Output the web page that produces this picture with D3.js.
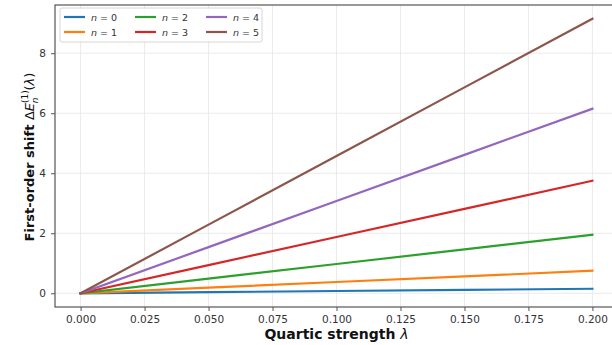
<!DOCTYPE html>
<html>
<head>
<meta charset="utf-8">
<script src="https://cdn.jsdelivr.net/npm/d3@7"></script>
<style>
  body { margin: 0; background: #fff; }
  svg { display: block; font-family: 'DejaVu Sans', sans-serif; }
</style>
</head>
<body>
<div id="chart"></div>
<script>
// values
const lambdas = [0, 0.05, 0.1, 0.15, 0.2];
const shiftN0 = [0, 0.0375, 0.075, 0.1125, 0.15];
const shiftN1 = [0, 0.1875, 0.375, 0.5625, 0.75];
const shiftN2 = [0, 0.4875, 0.975, 1.4625, 1.95];
const shiftN3 = [0, 0.9375, 1.875, 2.8125, 3.75];
const shiftN4 = [0, 1.5375, 3.075, 4.6125, 6.15];
const shiftN5 = [0, 2.2875, 4.575, 6.8625, 9.15];
const levels = ['0', '1', '2', '3', '4', '5'];
const xTicks = [0, 0.025, 0.05, 0.075, 0.1, 0.125, 0.15, 0.175, 0.2];
const yTicks = [0, 2, 4, 6, 8];

const series = [shiftN0, shiftN1, shiftN2, shiftN3, shiftN4, shiftN5];
const colors = ['#1f77b4', '#ff7f0e', '#2ca02c', '#d62728', '#9467bd', '#8c564b'];

const W = 612, H = 345;
const m = { left: 55, right: -6, top: 5, bottom: 38 };

const svg = d3.select('#chart').append('svg')
  .attr('width', W).attr('height', H);

const x = d3.scaleLinear()
  .domain([-0.01, 0.21])
  .range([m.left, W - m.right]);
const y = d3.scaleLinear()
  .domain([-0.4575, 9.6075])
  .range([H - m.bottom, m.top]);

// grid
svg.append('g').selectAll('line.gx')
  .data(xTicks).join('line')
    .attr('x1', d => x(d)).attr('x2', d => x(d))
    .attr('y1', y.range()[0]).attr('y2', y.range()[1])
    .attr('stroke', '#e6e6e6').attr('stroke-width', 0.8);
svg.append('g').selectAll('line.gy')
  .data(yTicks).join('line')
    .attr('x1', x.range()[0]).attr('x2', x.range()[1])
    .attr('y1', d => y(d)).attr('y2', d => y(d))
    .attr('stroke', '#e6e6e6').attr('stroke-width', 0.8);

// lines
const line = d3.line()
  .x((d, i) => x(lambdas[i]))
  .y(d => y(d));
svg.append('g').selectAll('path')
  .data(series).join('path')
    .attr('d', d => line(d))
    .attr('fill', 'none')
    .attr('stroke', (_, i) => colors[i])
    .attr('stroke-width', 2.2)
    .attr('stroke-linecap', 'square');

// spines
svg.append('rect')
  .attr('x', x.range()[0]).attr('y', y.range()[1])
  .attr('width', x.range()[1] - x.range()[0])
  .attr('height', y.range()[0] - y.range()[1])
  .attr('fill', 'none').attr('stroke', '#555').attr('stroke-width', 1.2);

// axes
const xAxis = svg.append('g')
  .attr('transform', `translate(0,${y.range()[0]})`)
  .call(d3.axisBottom(x).tickValues(xTicks).tickFormat(d3.format('.3f')).tickSize(4).tickPadding(5));
const yAxis = svg.append('g')
  .attr('transform', `translate(${x.range()[0]},0)`)
  .call(d3.axisLeft(y).tickValues(yTicks).tickFormat(d3.format('d')).tickSize(4).tickPadding(5));
[xAxis, yAxis].forEach(a => {
  a.select('.domain').remove();
  a.selectAll('line').attr('stroke', '#555').attr('stroke-width', 1);
  a.selectAll('text').attr('fill', '#333').attr('font-size', 10.5)
    .attr('font-family', "'DejaVu Sans', sans-serif");
});

// axis labels
const xl = svg.append('text')
  .attr('x', (x(0) + x(0.2)) / 2).attr('y', 339)
  .attr('text-anchor', 'middle').attr('font-size', 14).attr('font-weight', 'bold')
  .attr('fill', '#111');
xl.append('tspan').text('Quartic strength ');
xl.append('tspan').attr('font-style', 'italic').attr('font-weight', 'normal').text('λ');

const yl = svg.append('text')
  .attr('transform', 'translate(34,157) rotate(-90)')
  .attr('text-anchor', 'middle').attr('font-size', 13).attr('font-weight', 'bold')
  .attr('fill', '#111');
yl.append('tspan').text('First-order shift ');
yl.append('tspan').attr('font-weight', 'normal').text('Δ');
yl.append('tspan').attr('font-weight', 'normal').attr('font-style', 'italic').text('E');
yl.append('tspan').attr('font-weight', 'normal').attr('font-size', 9).attr('dy', -6).text('(1)');
yl.append('tspan').attr('font-weight', 'normal').attr('font-size', 9).attr('font-style', 'italic').attr('dx', -13).attr('dy', 10).text('n');
yl.append('tspan').attr('font-weight', 'normal').attr('dx', 7).attr('dy', -4).text('(');
yl.append('tspan').attr('font-weight', 'normal').attr('font-style', 'italic').text('λ');
yl.append('tspan').attr('font-weight', 'normal').text(')');

// legend
const lg = svg.append('g').attr('transform', 'translate(60,8)');
lg.append('rect')
  .attr('width', 202).attr('height', 34).attr('rx', 2)
  .attr('fill', '#fff').attr('fill-opacity', 0.85)
  .attr('stroke', '#ccc').attr('stroke-width', 0.8);
const items = lg.selectAll('g.item')
  .data(levels).join('g')
    .attr('class', 'item')
    .attr('transform', (_, i) => `translate(${4 + Math.floor(i / 2) * 71},${9 + (i % 2) * 15})`);
items.append('line')
  .attr('x1', 0).attr('x2', 21)
  .attr('stroke', (_, i) => colors[i]).attr('stroke-width', 2.2);
const lt = items.append('text')
  .attr('x', 27).attr('y', 3.5)
  .attr('font-size', 9.5).attr('fill', '#333');
lt.append('tspan').attr('font-style', 'italic').text('n');
lt.append('tspan').text(d => ` = ${d}`);
</script>
</body>
</html>
